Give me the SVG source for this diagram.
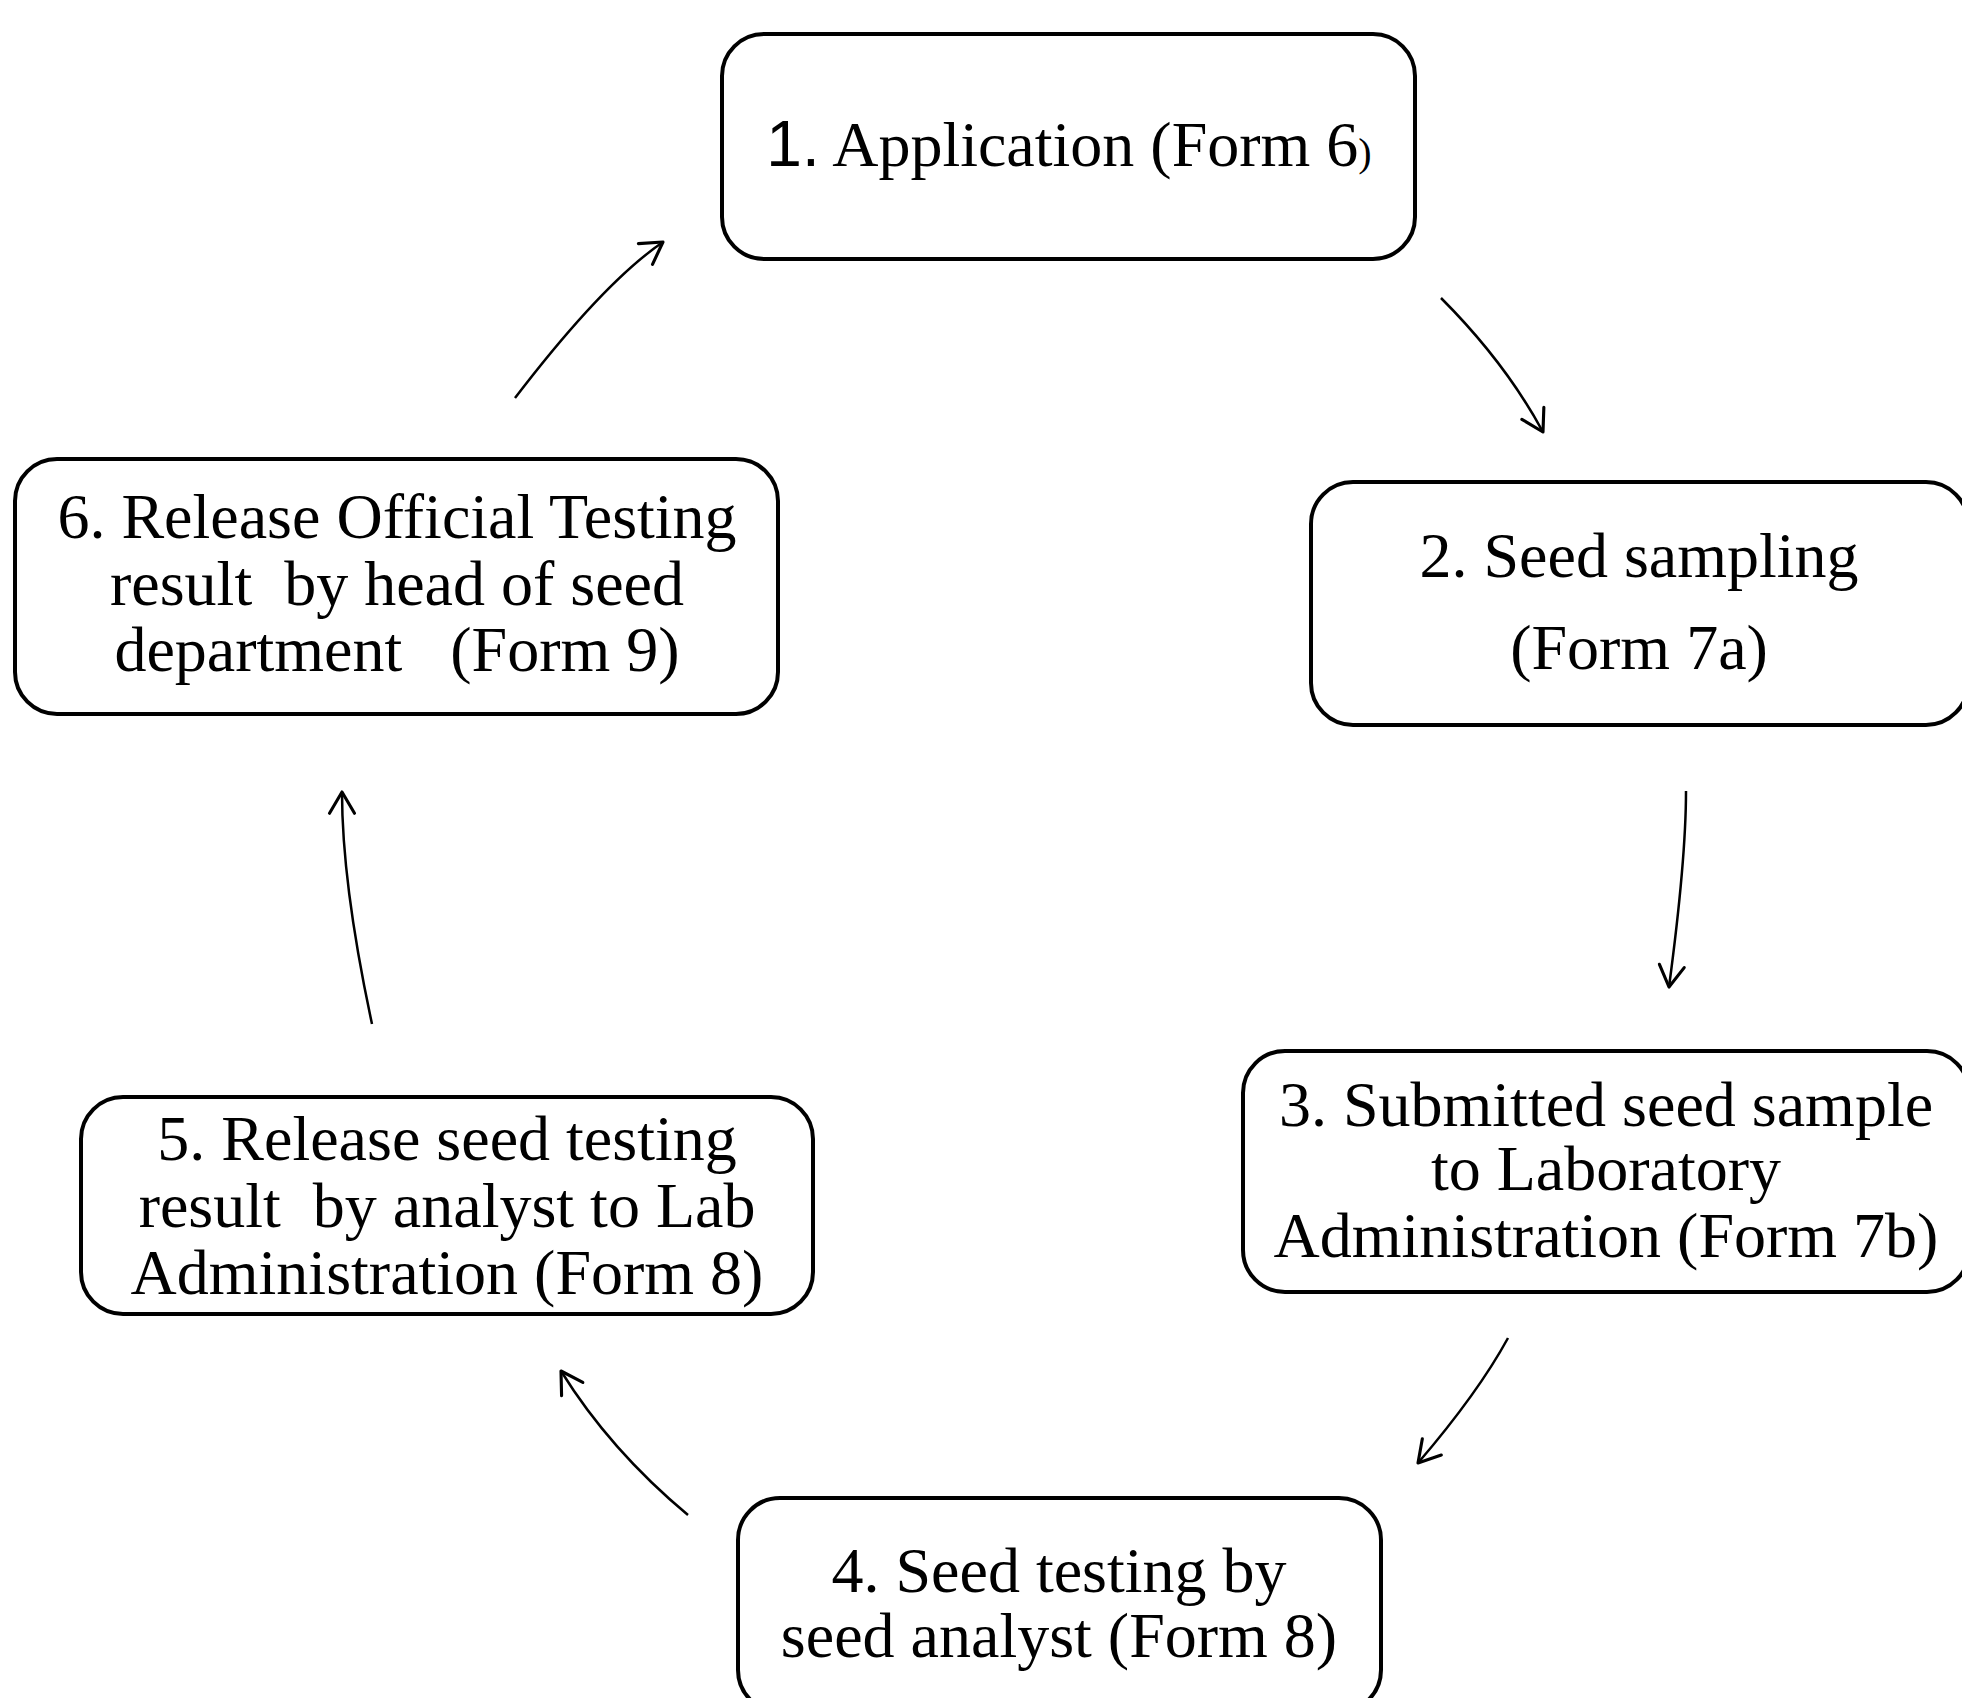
<svg xmlns="http://www.w3.org/2000/svg" width="1962" height="1698" viewBox="0 0 1962 1698">
<style>
.box{fill:#fff;stroke:#000;stroke-width:4}
.t{font-family:"Liberation Serif","Times New Roman",serif;font-size:64px;fill:#000;text-anchor:middle;white-space:pre}
.c{fill:none;stroke:#000;stroke-width:2.5}
</style>
<defs>
<marker id="ah" markerUnits="userSpaceOnUse" markerWidth="30" markerHeight="30" viewBox="-20 -12 24 24" refX="0" refY="0" orient="auto">
<path d="M-17,-10 L0,0 L-17,10" fill="none" stroke="#000" stroke-width="2.5" stroke-linecap="round" stroke-linejoin="round"/>
</marker>
</defs>
<rect width="1962" height="1698" fill="#fff"/>
<g id="node1">
<rect class="box" x="722" y="34" width="693" height="225" rx="42"/>
<text class="t" x="1069" y="166"><tspan font-family="Liberation Sans, Arial, sans-serif">1.</tspan> Application (Form 6<tspan font-size="40">)</tspan></text>
</g>
<g id="node2">
<rect class="box" x="1311" y="482" width="657" height="243" rx="42"/>
<text class="t" x="1639" y="577">2. Seed sampling</text>
<text class="t" x="1639" y="669">(Form 7a)</text>
</g>
<g id="node3">
<rect class="box" x="1243" y="1051" width="726" height="241" rx="42"/>
<text class="t" x="1606" y="1126">3. Submitted seed sample</text>
<text class="t" x="1606" y="1190">to Laboratory</text>
<text class="t" x="1606" y="1257">Administration (Form 7b)</text>
</g>
<g id="node4">
<rect class="box" x="738" y="1498" width="643" height="214" rx="42"/>
<text class="t" x="1059" y="1592">4. Seed testing by</text>
<text class="t" x="1059" y="1657">seed analyst (Form 8)</text>
</g>
<g id="node5">
<rect class="box" x="81" y="1097" width="732" height="217" rx="42"/>
<text class="t" x="447" y="1160">5. Release seed testing</text>
<text class="t" x="447" y="1227">result  by analyst to Lab</text>
<text class="t" x="447" y="1294">Administration (Form 8)</text>
</g>
<g id="node6">
<rect class="box" x="15" y="459" width="763" height="255" rx="42"/>
<text class="t" x="397" y="538">6. Release Official Testing</text>
<text class="t" x="397" y="605">result  by head of seed</text>
<text class="t" x="397" y="671">department   (Form 9)</text>
</g>
<g id="connectors">
<path class="c" d="M1441,298 Q1505,362 1543,432" marker-end="url(#ah)"/>
<path class="c" d="M1686,791 Q1686,860 1669,987" marker-end="url(#ah)"/>
<path class="c" d="M1508,1338 Q1478,1393 1418,1463" marker-end="url(#ah)"/>
<path class="c" d="M688,1515 Q610,1450 561,1371" marker-end="url(#ah)"/>
<path class="c" d="M372,1024 Q342,884 342,792" marker-end="url(#ah)"/>
<path class="c" d="M515,398 Q603,283 663,242" marker-end="url(#ah)"/>
</g>
</svg>
